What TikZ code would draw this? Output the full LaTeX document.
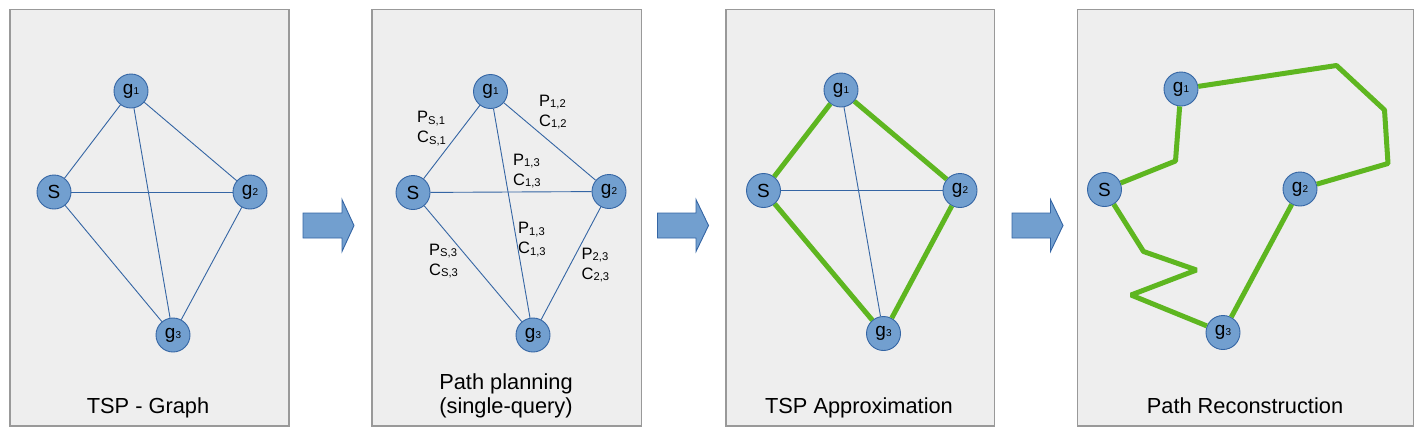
\documentclass[tikz,border=0pt]{standalone}
\usepackage{fontspec}
\setmainfont{Liberation Sans}

\definecolor{nodeblue}{HTML}{729FCF}
\definecolor{edgeblue}{HTML}{3465A4}
\definecolor{tourgreen}{RGB}{94,182,32}
\definecolor{panelfill}{HTML}{EEEEEE}
\definecolor{panelline}{HTML}{999999}

% small indices
\newcommand{\gidx}[1]{{\fontsize{10}{10}\selectfont #1}}
\newcommand{\cidx}[1]{\raisebox{-1.5pt}{\fontsize{11.2}{11.2}\selectfont #1}}

\tikzset{
	vertex/.style={circle, draw=edgeblue, fill=nodeblue, line width=0.9pt, minimum size=34pt, inner sep=0pt, font=\fontsize{19}{20}\selectfont},
	edge/.style={edgeblue, line width=0.9pt},
	tour/.style={tourgreen, line width=5pt, line join=bevel},
	panel/.style={draw=panelline, fill=panelfill, line width=1.3pt},
	flowarrow/.style={draw=edgeblue, fill=nodeblue, line width=0.9pt},
	caption/.style={font=\fontsize{21.8}{24}\selectfont, align=center, inner sep=0pt},
	cost/.style={font=\fontsize{16.5}{20}\selectfont, align=left, inner sep=0pt, anchor=north west},
}

\begin{document}
\begin{tikzpicture}[x=1pt,y=-1pt]
	\useasboundingbox (0,0) rectangle (1425,437);
	
	% panels
	\draw[panel] (10,9.5) rectangle (289,426);
	\draw[panel] (372,9.5) rectangle (641.5,426);
	\draw[panel] (726,9.5) rectangle (994.5,426);
	\draw[panel] (1077.5,9.5) rectangle (1413.5,426);
	
	% arrows between panels
	\draw[flowarrow] (303,213) -- (342,213) -- (342,199.5) -- (354,225.5) -- (342,251.5) -- (342,238) -- (303,238) -- cycle;
	\draw[flowarrow] (657.5,213) -- (696,213) -- (696,199.5) -- (708.5,225.5) -- (696,251.5) -- (696,238) -- (657.5,238) -- cycle;
	\draw[flowarrow] (1012,213) -- (1050.5,213) -- (1050.5,199.5) -- (1063,225.5) -- (1050.5,251.5) -- (1050.5,238) -- (1012,238) -- cycle;
	
	% TSP - Graph
	\node[vertex] at (131,91) (t1) {g\gidx{1}};
	\node[vertex] at (54,192) (tS) {S};
	\node[vertex] at (250,192) (t2) {g\gidx{2}};
	\node[vertex] at (173,335) (t3) {g\gidx{3}};
	\node[caption, anchor=base] at (148,413) (tcap) {TSP - Graph};
	
	\draw[edge] (tS) -- (t1);
	\draw[edge] (tS) -- (t2);
	\draw[edge] (tS) -- (t3);
	\draw[edge] (t1) -- (t2);
	\draw[edge] (t1) -- (t3);
	\draw[edge] (t2) -- (t3);
	
	% Path planning
	\node[vertex] at (490.5,91.5) (p1) {g\gidx{1}};
	\node[vertex] at (413,192.5) (pS) {S};
	\node[vertex] at (609,191.5) (p2) {g\gidx{2}};
	\node[vertex] at (533,335) (p3) {g\gidx{3}};
	\node[caption, anchor=north] at (506,373.5) (pcap) {Path planning\\(single-query)};
	
	\draw[edge] (pS) -- (p1);
	\draw[edge] (pS) -- (p2);
	\draw[edge] (pS) -- (p3);
	\draw[edge] (p1) -- (p2);
	\draw[edge] (p1) -- (p3);
	\draw[edge] (p2) -- (p3);
	
	\node[cost] at (417,111) (cS1) {P\cidx{S,1}\\C\cidx{S,1}};
	\node[cost] at (539,94.5) (c12) {P\cidx{1,2}\\C\cidx{1,2}};
	\node[cost] at (513,153.5) (c13a) {P\cidx{1,3}\\C\cidx{1,3}};
	\node[cost] at (518,222) (c13b) {P\cidx{1,3}\\C\cidx{1,3}};
	\node[cost] at (429,243.5) (cS3) {P\cidx{S,3}\\C\cidx{S,3}};
	\node[cost] at (581.5,247.5) (c23) {P\cidx{2,3}\\C\cidx{2,3}};
	
	% TSP Approximation
	\node[vertex] at (841,90) (a1) {g\gidx{1}};
	\node[vertex] at (763.5,190.5) (aS) {S};
	\node[vertex] at (960,190.5) (a2) {g\gidx{2}};
	\node[vertex] at (883.5,333.5) (a3) {g\gidx{3}};
	\node[caption, anchor=base] at (859,413) (acap) {TSP Approximation};
	
	\draw[edge] (aS) -- (a2);
	\draw[edge] (a1) -- (a3);
	\draw[tour] (aS) -- (a1);
	\draw[tour] (a1) -- (a2);
	\draw[tour] (a2) -- (a3);
	\draw[tour] (a3) -- (aS);
	
	% Path Reconstruction
	\node[vertex] at (1181,89) (r1) {g\gidx{1}};
	\node[vertex] at (1104.5,189.5) (rS) {S};
	\node[vertex] at (1300,189) (r2) {g\gidx{2}};
	\node[vertex] at (1223,332.5) (r3) {g\gidx{3}};
	\node[caption, anchor=base] at (1245,413) (rcap) {Path Reconstruction};
	
	\coordinate (w1) at (1336.5,65.5);
	\coordinate (w2) at (1384.5,110);
	\coordinate (w3) at (1388,163.5);
	\coordinate (w4) at (1175.5,161);
	\coordinate (w5) at (1143.5,251.5);
	\coordinate (w6) at (1196.5,270);
	\coordinate (w7) at (1131,295);
	
	\draw[tour] (r1) -- (w1) -- (w2) -- (w3) -- (r2);
	\draw[tour] (r1) -- (w4) -- (rS);
	\draw[tour] (rS) -- (w5) -- (w6) -- (w7) -- (r3);
	\draw[tour] (r2) -- (r3);
\end{tikzpicture}
\end{document}
